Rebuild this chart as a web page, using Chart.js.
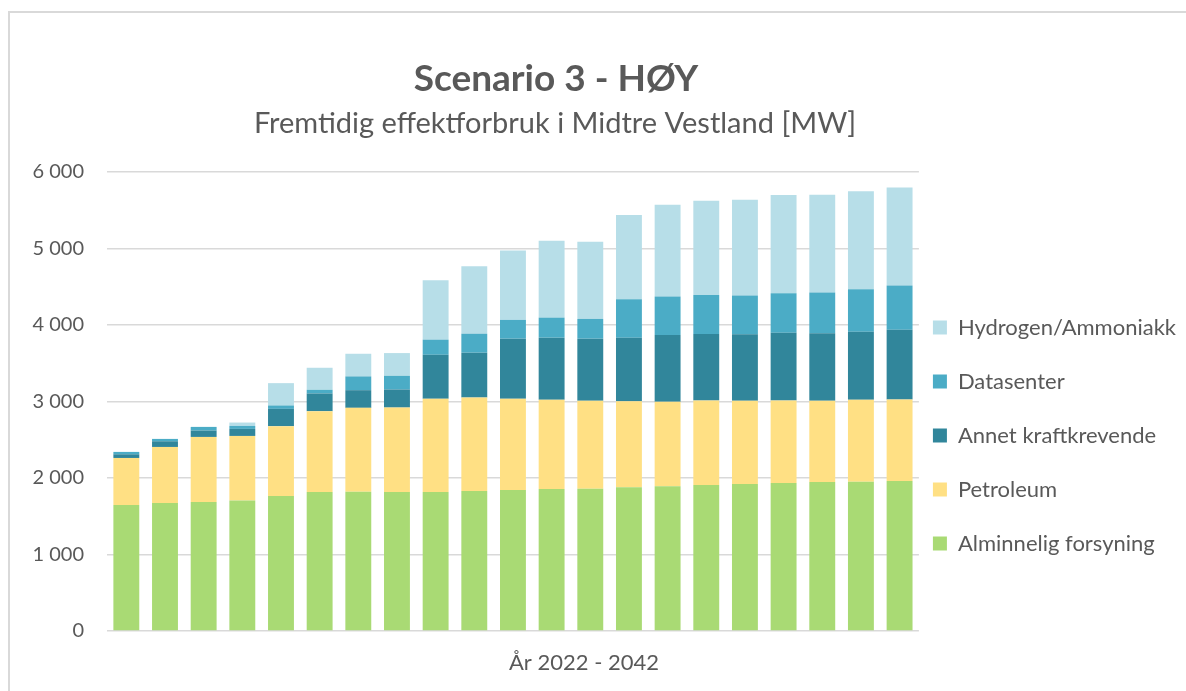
<!DOCTYPE html>
<html>
<head>
<meta charset="utf-8">
<script src="https://cdn.jsdelivr.net/npm/chart.js@4"></script>
<style>
  html, body { margin: 0; padding: 0; background: #ffffff; overflow: hidden; }
  #frame { position: absolute; left: 8px; top: 11px; width: 1300px; height: 800px;
           border-left: 2px solid #d9d9d9; border-top: 2px solid #d9d9d9; }
  #wrap { position: absolute; left: 0; top: 0; width: 1186px; height: 691px; }
</style>
</head>
<body>
<div id="frame"></div>
<div id="wrap"><canvas id="c" width="1186" height="691"></canvas></div>
<script>
// ---- Data ----
const years = ["2022","2023","2024","2025","2026","2027","2028","2029","2030","2031","2032",
               "2033","2034","2035","2036","2037","2038","2039","2040","2041","2042"];
const alminnelig = [1646,1672,1686,1707,1764,1817,1821,1817,1817,1830,1843,1856,1860,1878,1891,1908,1921,1934,1948,1952,1961];
const petroleum  = [616,734,851,843,913,1056,1096,1104,1218,1222,1192,1166,1149,1126,1105,1105,1088,1079,1061,1070,1065];
const annet      = [48,74,83,92,227,232,231,236,576,586,786,812,812,830,873,869,869,887,882,891,913];
const datasenter = [31,31,48,39,44,48,180,179,197,248,245,262,258,502,502,511,506,515,533,554,576];
const hydrogen   = [0,0,0,44,292,288,296,297,777,883,908,1004,1008,1101,1201,1231,1254,1284,1279,1280,1284];
const seriesNames = ["Alminnelig forsyning","Petroleum","Annet kraftkrevende","Datasenter","Hydrogen/Ammoniakk"];
const yTicks = [0,1000,2000,3000,4000,5000,6000];
const titleText = "Scenario 3 - HØY";
const subtitleText = "Fremtidig effektforbruk i Midtre Vestland [MW]";
const xTitleText = "År 2022 - 2042";

const FONT = "Lato, 'Open Sans', sans-serif";
const TXT = "#595959";
const colors = ["#A9DA74","#FFE084","#31869B","#4BACC6","#B7DEE8"];

function fmt(v) {
  if (v < 1000) return String(v);
  const th = Math.floor(v / 1000), rest = String(v % 1000).padStart(3, "0");
  return th + " " + rest;
}

const textPlugin = {
  id: "textPlugin",
  afterDraw(chart) {
    const ctx = chart.ctx;
    ctx.save();
    ctx.fillStyle = TXT;
    ctx.textAlign = "center";
    ctx.textBaseline = "alphabetic";
    ctx.font = "bold 37px " + FONT;
    ctx.fillText(titleText, 556, 91);
    ctx.font = "29px " + FONT;
    ctx.fillText(subtitleText, 555, 133);
    ctx.font = "22px " + FONT;
    ctx.fillText(xTitleText, 584, 670);
    ctx.restore();
  }
};

const dataArrays = [alminnelig, petroleum, annet, datasenter, hydrogen];
const datasets = dataArrays.map((arr, i) => ({
  label: seriesNames[i],
  data: arr,
  backgroundColor: colors[i],
  borderWidth: 0,
  barPercentage: 0.67,
  categoryPercentage: 1.0
}));

new Chart(document.getElementById("c"), {
  type: "bar",
  data: { labels: years, datasets },
  options: {
    responsive: false,
    animation: false,
    layout: { padding: { left: 0, top: 172, right: 0, bottom: 60 } },
    scales: {
      x: {
        stacked: true,
        display: false,
        grid: { display: false }
      },
      y: {
        stacked: true,
        min: 0, max: 6000,
        afterBuildTicks(scale) { scale.ticks = yTicks.map(v => ({ value: v })); },
        afterFit(scale) { scale.width = 107; scale.paddingTop = 0; scale.paddingBottom = 0; },
        border: { display: false },
        grid: { color: "#d9d9d9", lineWidth: 1.5, drawTicks: false },
        ticks: {
          padding: 23,
          color: TXT,
          font: { family: FONT, size: 20 },
          callback: (v) => fmt(v)
        }
      }
    },
    plugins: {
      tooltip: { enabled: false },
      title: { display: false },
      legend: {
        position: "right",
        fullSize: false,
        reverse: true,
        title: { display: true, text: " ", padding: 0, font: { size: 10, lineHeight: "86px" } },
        labels: {
          boxWidth: 14,
          boxHeight: 14,
          padding: 14,
          color: TXT,
          font: { family: FONT, size: 22, lineHeight: "40px" },
          generateLabels(chart) {
            const items = Chart.defaults.plugins.legend.labels.generateLabels(chart);
            return items.map(it => Object.assign(it, { text: [it.text], lineWidth: 0 }));
          }
        }
      }
    }
  },
  plugins: [textPlugin]
});
</script>
</body>
</html>
